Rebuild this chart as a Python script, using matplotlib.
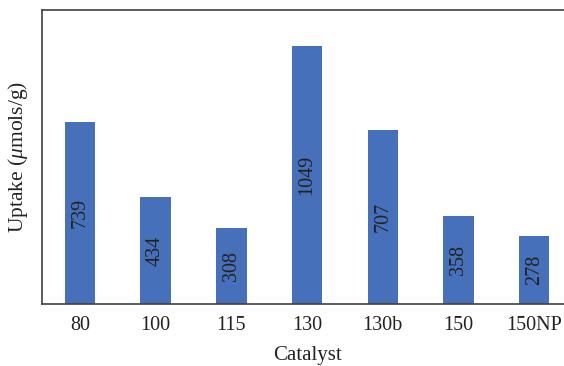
import matplotlib
matplotlib.use("Agg")
import matplotlib.pyplot as plt

catalysts = ["80", "100", "115", "130", "130b", "150", "150NP"]
uptake = [739, 434, 308, 1049, 707, 358, 278]

plt.rcParams["font.family"] = ["Liberation Serif", "DejaVu Serif"]
plt.rcParams["mathtext.fontset"] = "custom"
plt.rcParams["mathtext.it"] = "Liberation Serif:italic"
plt.rcParams["mathtext.rm"] = "Liberation Serif"

fig = plt.figure(figsize=(5.64, 3.66), dpi=100)
ax = fig.add_axes([0.0745, 0.1694, 0.94, 0.8033])

x = list(range(len(catalysts)))
bars = ax.bar(x, uptake, width=0.4, color="#4670b9")

for xi, v in zip(x, uptake):
    ax.text(xi, v / 2, str(v), rotation=90, ha="center", va="center",
            fontsize=14.5, color="#222222")

ax.set_xlim(-0.5, 6.5)
ax.set_ylim(0, 1195)
ax.set_yticks([])
ax.set_xticks(x)
ax.set_xticklabels(catalysts, fontsize=14.5, color="#222222")
ax.tick_params(axis="x", length=0, pad=8.5)
ax.set_xlabel("Catalyst", fontsize=15, color="#222222", labelpad=8)
ax.set_ylabel(r"Uptake ($\mu$mols/g)", fontsize=15.5, color="#222222", labelpad=9)

for s in ax.spines.values():
    s.set_color("#404040")
    s.set_linewidth(1.2)

fig.savefig("out.png", dpi=100)
